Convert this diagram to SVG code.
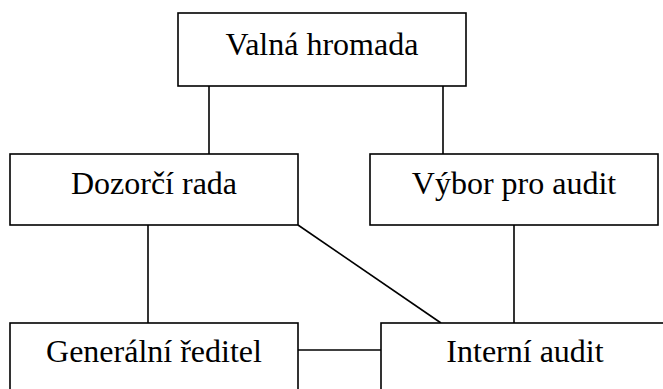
<svg xmlns="http://www.w3.org/2000/svg" width="663" height="389" viewBox="0 0 663 389">
<style>
.box{fill:#fff;stroke:#000;stroke-width:1.6}
.lbl{font-family:"Liberation Serif","Times New Roman",serif;font-size:32px;fill:#000;text-anchor:middle}
.con line{stroke:#000;stroke-width:1.6}
</style>
<rect width="663" height="389" fill="#fff"/>
<g class="con" id="connectors">
<line x1="209" y1="86" x2="209" y2="154"/>
<line x1="443" y1="86" x2="443" y2="154"/>
<line x1="148" y1="225" x2="148" y2="323"/>
<line x1="298" y1="225" x2="441" y2="323"/>
<line x1="514" y1="225" x2="514" y2="323"/>
<line x1="298" y1="350" x2="381" y2="350"/>
</g>
<g id="valna">
<rect class="box" x="178" y="13" width="288" height="73"/>
<text class="lbl" x="322" y="55">Valná hromada</text>
</g>
<g id="dozorci">
<rect class="box" x="10" y="154" width="288" height="71"/>
<text class="lbl" x="154" y="194">Dozorčí rada</text>
</g>
<g id="vybor">
<rect class="box" x="370" y="154" width="288" height="71"/>
<text class="lbl" x="514" y="194">Výbor pro audit</text>
</g>
<g id="generalni">
<rect class="box" x="10" y="323" width="288" height="72"/>
<text class="lbl" x="154" y="362">Generální ředitel</text>
</g>
<g id="interni">
<rect class="box" x="381" y="323" width="288" height="72"/>
<text class="lbl" x="525" y="362">Interní audit</text>
</g>
</svg>
